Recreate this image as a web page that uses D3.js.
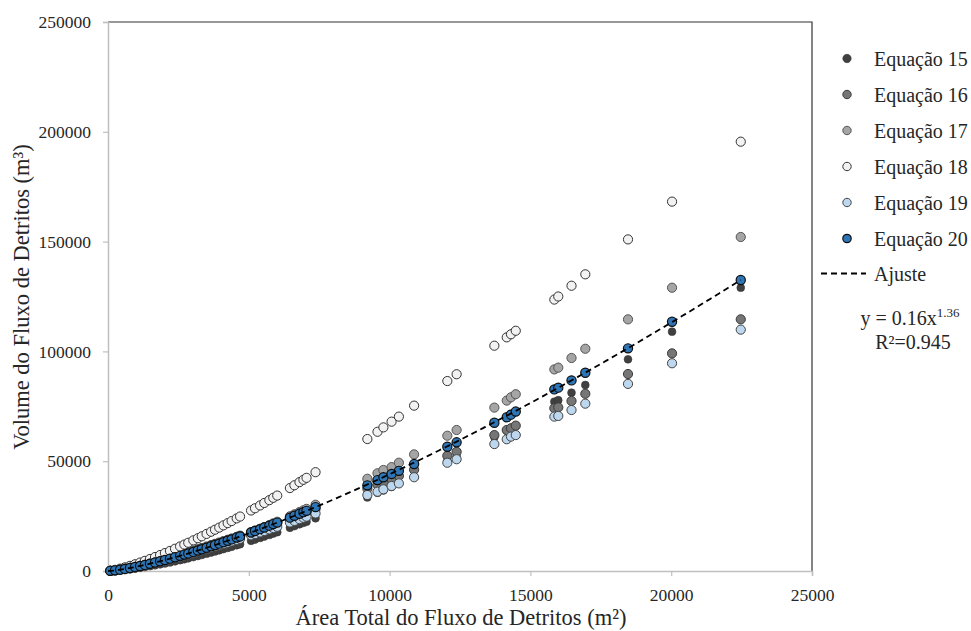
<!DOCTYPE html>
<html><head><meta charset="utf-8">
<script src="https://cdn.jsdelivr.net/npm/d3@7"></script>
<style>
body{margin:0;background:#fff}
text{font-family:"Liberation Serif","Times New Roman",serif;fill:#262626}
</style>
</head><body>
<svg id="c" width="971" height="631"></svg>
<script>
// ---- data ----
const areas = [80,250,430,600,780,960,1140,1310,1490,1670,1850,2020,2200,2380,2560,2710,2850,3030,3190,3330,3500,3660,3800,3950,4100,4250,4390,4570,4690,5080,5220,5400,5550,5730,5870,6010,6460,6620,6800,6940,7050,7370,
  9210,9570,9780,10070,10330,10870,12050,12380,13720,14160,14310,14480,15850,15990,16460,16950,18466,20030,22470];
const eq15 = [27,150,340,560,830,1130,1460,1800,2190,2590,3020,3450,3920,4410,4920,5360,5780,6330,6840,7300,7870,8410,8900,9420,9970,10530,11040,11730,12190,13750,14320,15060,15700,16450,17070,17670,19680,20440,21290,21930,22470,24010,
  33500,35600,36700,38300,39800,43000,50200,52300,61000,63900,65000,66000,77100,77800,81200,84700,96400,109000,129000];
const eq16 = [97,407,802,1220,1690,2200,2730,3250,3820,4410,5000,5590,6220,6860,7520,8080,8610,9290,9910,10470,11150,11780,12350,12950,13580,14210,14790,15560,16070,17760,18380,19170,19850,20640,21290,21900,23980,24740,25600,26240,26790,28320,
  37500,39300,40400,41900,43300,46100,52500,54300,61900,64200,65000,66200,74100,74500,77400,80700,89700,99100,114600];
const eq17 = [43,222,488,792,1160,1570,2010,2460,2970,3500,4060,4610,5220,5850,6510,7070,7600,8310,8950,9540,10260,10930,11550,12200,12890,13590,14230,15090,15660,17590,18290,19210,20000,20920,21690,22420,24890,25810,26850,27630,28290,30170,
  42000,44500,46000,47300,49300,53100,61600,64200,74400,77600,79100,80500,91800,92600,97000,101200,114600,129000,152100];
const eq18 = [116,520,1060,1650,2330,3070,3850,4620,5480,6360,7270,8170,9140,10140,11170,12040,12870,13950,14920,15800,16890,17890,18800,19770,20780,21800,22740,23970,24800,27550,28560,29850,30980,32260,33340,34350,37770,39040,40470,41540,42430,44990,
  60100,63400,65400,68000,70300,75300,86500,89600,102600,106400,107800,109400,123600,125000,129900,135100,151000,168200,195500];
const eq19 = [78,338,678,1040,1460,1900,2380,2840,3360,3890,4430,4960,5530,6120,6730,7240,7720,8350,8920,9440,10070,10650,11180,11740,12330,12920,13460,14170,14650,16240,16810,17550,18200,18940,19550,20130,22080,22800,23620,24230,24740,26190,
  34600,36100,37200,38700,39900,42700,49300,50900,57800,60000,61200,61900,70300,70600,73300,76200,85200,94600,109900];
const eq20 = [62,292,610,960,1370,1820,2300,2780,3310,3870,4440,5010,5620,6260,6910,7470,8000,8690,9320,9890,10590,11240,11830,12460,13120,13780,14390,15200,15740,17550,18210,19060,19800,20650,21360,22030,24300,25140,26090,26800,27400,29100,
  39000,41400,42700,44200,45600,48700,56600,58600,67500,70000,71200,72600,82700,83500,86800,90300,101400,113500,132500];
const seriesNames = ["Equação 15","Equação 16","Equação 17","Equação 18","Equação 19","Equação 20"];
const xTicks = [0,5000,10000,15000,20000,25000];
const yTicks = [0,50000,100000,150000,200000,250000];
const fitA = 0.16, fitB = 1.36, fitR2 = "0.945";
const xTitle = "Área Total do Fluxo de Detritos (m²)";
const yTitle = "Volume do Fluxo de Detritos (m³)";
const fitLabel = "Ajuste";

// ---- styles ----
const seriesVals = [eq15,eq16,eq17,eq18,eq19,eq20];
const fills   = ["#404040","#767676","#a5a5a5","#f2f2f2","#bdd7ee","#2e75b6"];
const strokes = ["#383838","#3a3a3a","#555555","#333333","#444444","#0d0d0d"];
const widths  = [0.6,1,1,1,1,1.2];
const radii   = [3.9,4.6,4.6,4.6,4.6,4.6];

const svg = d3.select("#c");
const x = d3.scaleLinear().domain([0,25000]).range([108,812]);
const y = d3.scaleLinear().domain([0,250000]).range([571,22]);

// frame (top & right)
svg.append("path").attr("d",`M${x(0)},${y(250000)}H${x(25000)}V${y(0)}`)
  .attr("fill","none").attr("stroke","#333").attr("stroke-width",1.2);

const gx = svg.append("g").attr("transform",`translate(0,${y(0)})`)
  .call(d3.axisBottom(x).tickValues(xTicks).tickFormat(d3.format("d")).tickSizeOuter(0).tickSize(5).tickPadding(13));
const gy = svg.append("g").attr("transform",`translate(${x(0)},0)`)
  .call(d3.axisLeft(y).tickValues(yTicks).tickFormat(d3.format("d")).tickSizeOuter(0).tickSize(5).tickPadding(12));
[gx,gy].forEach(g=>{
  g.select(".domain").attr("stroke","#bfbfbf").attr("stroke-width",1.5);
  g.selectAll(".tick line").attr("stroke","#bfbfbf").attr("stroke-width",1.2);
  g.selectAll(".tick text").attr("font-family","Liberation Serif").attr("font-size",17.5).attr("fill","#262626");
});

// points
seriesVals.forEach((vals,i)=>{
  svg.append("g").selectAll("circle").data(areas.map((a,j)=>[a,vals[j]])).join("circle")
    .attr("cx",d=>x(d[0])).attr("cy",d=>y(d[1])).attr("r",radii[i])
    .attr("fill",fills[i]).attr("stroke",strokes[i]).attr("stroke-width",widths[i]);
});

// fit line from displayed equation
const fitXs = d3.range(0, d3.max(areas), 100).concat([d3.max(areas)]);
svg.append("path").datum(fitXs)
  .attr("d", d3.line().x(a=>x(a)).y(a=>y(fitA*Math.pow(a,fitB))))
  .attr("fill","none").attr("stroke","#000").attr("stroke-width",1.8).attr("stroke-dasharray","6,4");

// axis titles
svg.append("text").attr("x",461).attr("y",625).attr("text-anchor","middle")
  .attr("font-size",22.5).text(xTitle);
svg.append("text").attr("transform","translate(29,297) rotate(-90)").attr("text-anchor","middle")
  .attr("font-size",22.5).text(yTitle);

// legend
const lg = svg.append("g");
seriesNames.forEach((n,i)=>{
  const yy = 58.5 + i*36;
  lg.append("circle").attr("cx",847).attr("cy",yy).attr("r",4.2)
    .attr("fill",fills[i]).attr("stroke",strokes[i]).attr("stroke-width",widths[i]);
  lg.append("text").attr("x",874).attr("y",yy).attr("dy","0.35em").attr("font-size",20).text(n);
});
lg.append("line").attr("x1",821).attr("x2",866).attr("y1",273.5).attr("y2",273.5)
  .attr("stroke","#000").attr("stroke-width",1.8).attr("stroke-dasharray","6,4");
lg.append("text").attr("x",874).attr("y",273.5).attr("dy","0.35em").attr("font-size",20).text(fitLabel);
const f1 = lg.append("text").attr("x",910).attr("y",325).attr("text-anchor","middle").attr("font-size",20);
f1.append("tspan").text(`y = ${fitA}x`);
f1.append("tspan").attr("dy",-8).attr("font-size",13).text(fitB.toFixed(2));
lg.append("text").attr("x",913).attr("y",349).attr("text-anchor","middle").attr("font-size",20).text(`R²=${fitR2}`);
</script>
</body></html>
